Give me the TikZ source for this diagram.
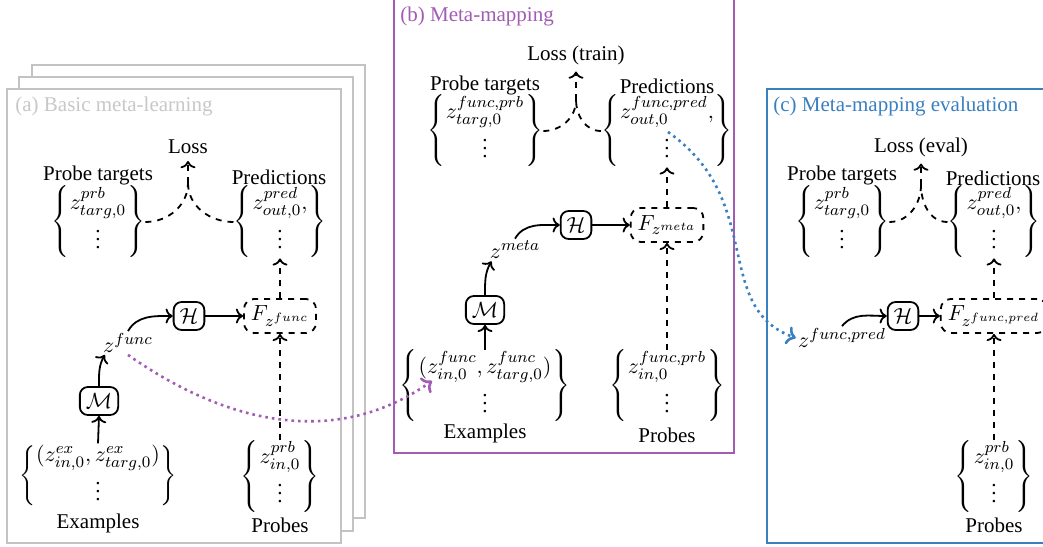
\documentclass[tikz,border=0pt]{standalone}
\usepackage{fontspec}
\setmainfont{Liberation Serif}
\usetikzlibrary{arrows.meta}
\DeclareMathSizes{10.5}{11.2}{8}{6}
\definecolor{mmpurple}{RGB}{162,92,180}
\definecolor{mmblue}{RGB}{58,128,192}
\definecolor{framegray}{RGB}{195,195,195}
\definecolor{titlegray}{RGB}{200,200,200}
\newcommand{\zset}[1]{$\setlength{\arraycolsep}{0.5pt}\left\{\begin{array}{c}#1\\\vdots\end{array}\right\}$}
\tikzset{
  opbox/.style={draw, rounded corners=4pt, line width=0.9pt, inner xsep=3pt, inner ysep=0pt, minimum height=14pt},
  fbox/.style={draw, dashed, rounded corners=5pt, line width=0.9pt, inner xsep=3.5pt, inner ysep=0pt, minimum height=17pt},
  zlab/.style={inner sep=1pt},
  setnode/.style={inner sep=0pt},
  conn/.style={line width=0.9pt, ->},
  dconn/.style={line width=0.9pt, dashed, ->},
  dline/.style={line width=0.9pt, dashed},
  panelframe/.style={line width=1pt},
  paneltitle/.style={anchor=west, inner sep=0pt},
  purpledots/.style={mmpurple, line width=1.3pt, dotted, ->},
  bluedots/.style={mmblue, line width=1.3pt, dotted, ->},
}
\begin{document}
\begin{tikzpicture}[x=0.5pt, y=0.5pt, font=\fontsize{10.5}{12.6}\selectfont]
\useasboundingbox[fill=white] (0,0) rectangle (1043,546);

% ---------------- Panel (a) ----------------
\draw[panelframe, framegray, fill=white] (32,481) rectangle (365,28);
\draw[panelframe, framegray, fill=white] (19,469) rectangle (353,15);
\draw[panelframe, framegray, fill=white] (7,457) rectangle (341,3);
\node[paneltitle, text=titlegray] (titlea) at (15,440) {(a) Basic meta-learning};

\node (lossa) at (188,399) {Loss};
\node (ptlaba) at (98,371) {Probe targets};
\node[setnode] (pta) at (98,324) {\zset{z^{prb}_{targ,0}}};
\node (predlaba) at (279,369) {Predictions};
\node[setnode] (preda) at (280,324) {\zset{z^{pred}_{out,0},}};
\node[fbox] (Fa) at (280,230) {$F_{z^{func}}$};
\node[opbox] (Ha) at (189,230) {$\mathcal{H}$};
\node[zlab] (za) at (128,203) {$z^{func}$};
\node[opbox] (Ma) at (99,145) {$\mathcal{M}$};
\node[setnode] (exa) at (98,70) {\zset{(z^{ex}_{in,0}, z^{ex}_{targ,0})}};
\node (exlaba) at (98,23) {Examples};
\node[setnode] (pra) at (280,70) {\zset{z^{prb}_{in,0}}};
\node (prlaba) at (280,21) {Probes};
\coordinate (ja) at (188,363);

\draw[dline] (pta.east) to[out=0,in=-90] (ja);
\draw[dline] (preda.west) to[out=180,in=-90] (ja);
\draw[dconn] (ja) -- (lossa.south);
\draw[dconn] (Fa.north) -- (preda.south);
\draw[dconn] (pra.north) -- (Fa.south);
\draw[conn] (Ha.east) -- (Fa.west);
\draw[conn] (za.north) to[out=60,in=180] (Ha.west);
\draw[conn] (Ma.north) to[out=90,in=240] ([xshift=2pt]za.south west);
\draw[conn] (exa.north) -- (Ma.south);

% ---------------- Panel (b) ----------------
\draw[panelframe, mmpurple] (394,551) rectangle (734,93);
\node[paneltitle, text=mmpurple] (titleb) at (400,530) {(b) Meta-mapping};

\node (lossb) at (576,491) {Loss (train)};
\node (ptlabb) at (485,461) {Probe targets};
\node[setnode] (ptb) at (485,415) {\zset{z^{func,prb}_{targ,0}}};
\node (predlabb) at (667,460) {Predictions};
\node[setnode] (predb) at (667,415) {\zset{z^{func,pred}_{out,0},}};
\node[fbox] (Fb) at (667,321) {$F_{z^{meta}}$};
\node[opbox] (Hb) at (576,321) {$\mathcal{H}$};
\node[zlab] (zb) at (515,296) {$z^{meta}$};
\node[opbox] (Mb) at (485,236) {$\mathcal{M}$};
\node[setnode] (exb) at (485,160) {\zset{(z^{func}_{in,0}, z^{func}_{targ,0})}};
\node (exlabb) at (485,113) {Examples};
\node[setnode] (prb) at (667,160) {\zset{z^{func,prb}_{in,0}}};
\node (prlabb) at (667,111) {Probes};
\coordinate (jb) at (576,446);
\coordinate (exbin) at (432,165);
\coordinate (predbz) at (668,414);

\draw[dline] (ptb.east) to[out=0,in=-90] (jb);
\draw[dline] (predb.west) to[out=180,in=-90] (jb);
\draw[dconn] (jb) -- (lossb.south);
\draw[dconn] (Fb.north) -- (predb.south);
\draw[dconn] (prb.north) -- (Fb.south);
\draw[conn] (Hb.east) -- (Fb.west);
\draw[conn] (zb.north) to[out=60,in=180] (Hb.west);
\draw[conn] (Mb.north) to[out=90,in=240] ([xshift=2pt]zb.south west);
\draw[conn] (exb.north) -- (Mb.south);

% ---------------- Panel (c) ----------------
\draw[panelframe, mmblue] (767,457) rectangle (1050,3);
\node[paneltitle, text=mmblue] (titlec) at (773,440) {(c) Meta-mapping evaluation};

\node (lossc) at (921,399) {Loss (eval)};
\node (ptlabc) at (842,371) {Probe targets};
\node[setnode] (ptc) at (842,324) {\zset{z^{prb}_{targ,0}}};
\node (predlabc) at (993,368) {Predictions};
\node[setnode] (predc) at (994,324) {\zset{z^{pred}_{out,0},}};
\node[fbox] (Fc) at (994,230) {$F_{z^{func,pred}}$};
\node[opbox] (Hc) at (903,230) {$\mathcal{H}$};
\node[zlab] (zc) at (842,208) {$z^{func,pred}$};
\node[setnode] (prc) at (994,70) {\zset{z^{prb}_{in,0}}};
\node (prlabc) at (994,21) {Probes};
\coordinate (jc) at (921,361);

\draw[dline] (ptc.east) to[out=0,in=-90] (jc);
\draw[dline] (predc.west) to[out=180,in=-90] (jc);
\draw[dconn] (jc) -- (lossc.south);
\draw[dconn] (Fc.north) -- (predc.south);
\draw[dconn] (prc.north) -- (Fc.south);
\draw[conn] (Hc.east) -- (Fc.west);
\draw[conn] (zc.north) to[out=50,in=180] (Hc.west);

% ---------------- cross-panel dotted links ----------------
\draw[purpledots] (za.south) to[out=-35,in=215] (exbin);
\draw[bluedots] (predbz) .. controls +(-35:120) and +(160:90) .. (zc.west);
\end{tikzpicture}
\end{document}
